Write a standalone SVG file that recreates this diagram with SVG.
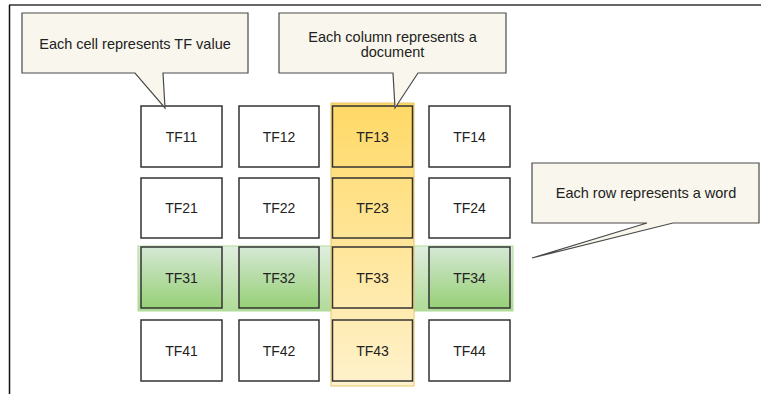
<svg xmlns="http://www.w3.org/2000/svg" width="761" height="394" viewBox="0 0 761 394">
<defs>
<linearGradient id="gGreen" x1="0" y1="0" x2="0" y2="1"><stop offset="0" stop-color="#d5e8d4"/><stop offset="1" stop-color="#97d077"/></linearGradient>
<linearGradient id="gYellow" x1="0" y1="0" x2="0" y2="1"><stop offset="0" stop-color="#ffd966"/><stop offset="1" stop-color="#fff2cc"/></linearGradient>
</defs>
<style>
.cell{fill:#ffffff;stroke:#333333;stroke-width:1.5}
.gcell{fill:url(#gGreen);stroke:#333333;stroke-width:1.5}
.ycell{fill:none;stroke:#333333;stroke-width:1.5}
.lbl{font-family:"Liberation Sans",Arial,sans-serif;font-size:14px;fill:#222222;text-anchor:middle;dominant-baseline:central}
.call{fill:#f9f7ed;stroke:#4a4a4a;stroke-width:1.2}
.ctxt{font-family:"Liberation Sans",Arial,sans-serif;font-size:14.5px;fill:#222222;text-anchor:middle;dominant-baseline:central}
</style>
<rect x="0" y="0" width="761" height="394" fill="#ffffff"/>
<g id="frame">
<line x1="9" y1="5" x2="761" y2="5" stroke="#333333" stroke-width="1.5"/>
<line x1="9.5" y1="5" x2="9.5" y2="394" stroke="#111111" stroke-width="1.5"/>
</g>
<g id="row-band"><rect x="138" y="246" width="375" height="65" fill="url(#gGreen)" opacity="0.75" stroke="#97d077" stroke-width="1"/></g>
<g id="TF11"><rect class="cell" x="141" y="106" width="81" height="61"/><text class="lbl" x="181.5" y="136.5">TF11</text></g>
<g id="TF12"><rect class="cell" x="239" y="106" width="80" height="61"/><text class="lbl" x="279" y="136.5">TF12</text></g>
<g id="TF14"><rect class="cell" x="429" y="106" width="81" height="61"/><text class="lbl" x="469.5" y="136.5">TF14</text></g>
<g id="TF21"><rect class="cell" x="141" y="178" width="81" height="60"/><text class="lbl" x="181.5" y="208">TF21</text></g>
<g id="TF22"><rect class="cell" x="239" y="178" width="80" height="60"/><text class="lbl" x="279" y="208">TF22</text></g>
<g id="TF24"><rect class="cell" x="429" y="178" width="81" height="60"/><text class="lbl" x="469.5" y="208">TF24</text></g>
<g id="TF31"><rect class="gcell" x="141" y="247" width="81" height="61"/><text class="lbl" x="181.5" y="277.5">TF31</text></g>
<g id="TF32"><rect class="gcell" x="239" y="247" width="80" height="61"/><text class="lbl" x="279" y="277.5">TF32</text></g>
<g id="TF34"><rect class="gcell" x="429" y="247" width="81" height="61"/><text class="lbl" x="469.5" y="277.5">TF34</text></g>
<g id="TF41"><rect class="cell" x="141" y="320" width="81" height="61"/><text class="lbl" x="181.5" y="350.5">TF41</text></g>
<g id="TF42"><rect class="cell" x="239" y="320" width="80" height="61"/><text class="lbl" x="279" y="350.5">TF42</text></g>
<g id="TF44"><rect class="cell" x="429" y="320" width="81" height="61"/><text class="lbl" x="469.5" y="350.5">TF44</text></g>
<g id="column-band"><rect x="331" y="103" width="83" height="283" fill="url(#gYellow)" stroke="#e6c56a" stroke-width="1"/></g>
<g id="TF13"><rect class="ycell" x="332.5" y="106" width="80" height="61"/><text class="lbl" x="372.5" y="136.5">TF13</text></g>
<g id="TF23"><rect class="ycell" x="332.5" y="178" width="80" height="60"/><text class="lbl" x="372.5" y="208">TF23</text></g>
<g id="TF33"><rect class="ycell" x="332.5" y="247" width="80" height="61"/><text class="lbl" x="372.5" y="277.5">TF33</text></g>
<g id="TF43"><rect class="ycell" x="332.5" y="320" width="80" height="61"/><text class="lbl" x="372.5" y="350.5">TF43</text></g>
<g id="callout-cell"><path class="call" d="M22,13 H248 V73 H163 L165,108 L135,73 H22 Z"/><text class="ctxt" x="135" y="44">Each cell represents TF value</text></g>
<g id="callout-column"><path class="call" d="M279,13 H506 V73 H418 L395,108 L393,73 H279 Z"/><text class="ctxt" x="392.5" y="37">Each column represents a</text><text class="ctxt" x="392.5" y="52">document</text></g>
<g id="callout-row"><path class="call" d="M532,163 H759 V223 H673 L532,258 L647,223 H532 Z"/><text class="ctxt" x="646" y="193">Each row represents a word</text></g>
<g id="connectors"></g>
</svg>
